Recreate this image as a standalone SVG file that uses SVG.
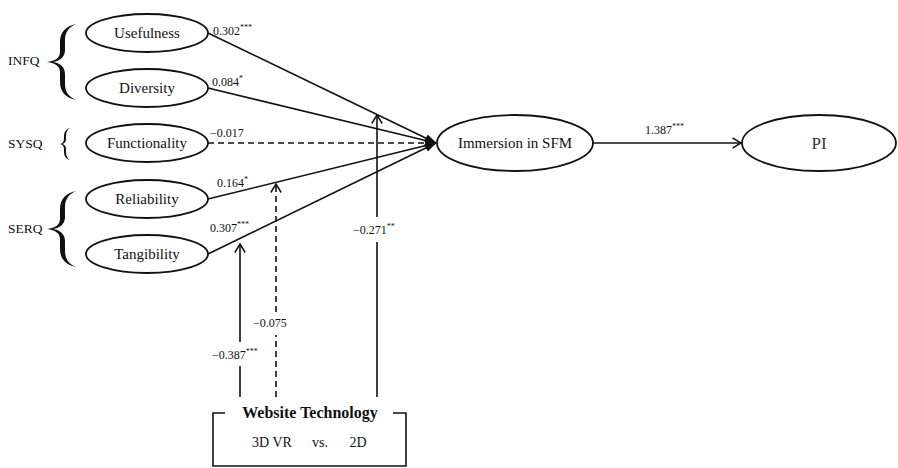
<svg xmlns="http://www.w3.org/2000/svg" width="898" height="468" viewBox="0 0 898 468">
<style>
text{font-family:"Liberation Serif","Times New Roman",serif;fill:#111}
.node ellipse{fill:#fff;stroke:#111;stroke-width:1.8}
.nt{font-size:15px;text-anchor:middle}
.lbl{font-size:12px}
.sup{font-size:8px}
.grp{font-size:13.5px}
.ln{stroke:#111;stroke-width:1.6;fill:none}
.dash{stroke-dasharray:6 4}
.brace{fill:#111;stroke:none}
</style>
<defs>
<marker id="fill" viewBox="0 0 12 10" refX="11" refY="5" markerWidth="12" markerHeight="10" markerUnits="userSpaceOnUse" orient="auto">
<path d="M0,1 L12,5 L0,9 Z" fill="#111"/>
</marker>
<marker id="open" viewBox="0 0 10 12" refX="9" refY="6" markerWidth="10" markerHeight="12" markerUnits="userSpaceOnUse" orient="auto">
<path d="M0.5,0.8 L9,6 L0.5,11.2" fill="none" stroke="#111" stroke-width="1.5"/>
</marker>
</defs>

<g id="groups">
<text class="grp" x="8" y="65">INFQ</text>
<text class="grp" x="8" y="148">SYSQ</text>
<text class="grp" x="8" y="233">SERQ</text>
<path class="brace" d="M76,24 C66,26 60,32 60,42 L60,52 C60,58 55,61 47,62 C55,63 60,66 60,72 L60,82 C60,92 66,98 76,100 C69,97 65,92 65,84 L65,74 C65,67 60,63 53,62 C60,61 65,57 65,50 L65,40 C65,32 69,27 76,24 Z"/>
<path class="brace" d="M70,128 C66,129 64,132 64,136 L64,139 C64,142 62,143.5 60,144 C62,144.5 64,146 64,149 L64,152 C64,156 66,159 70,160 C67.5,158.5 66,156 66,152 L66,149 C66,146 64.5,144.5 62,144 C64.5,143.5 66,142 66,139 L66,136 C66,132 67.5,129.5 70,128 Z"/>
<path class="brace" transform="translate(0,167)" d="M76,24 C66,26 60,32 60,42 L60,52 C60,58 55,61 47,62 C55,63 60,66 60,72 L60,82 C60,92 66,98 76,100 C69,97 65,92 65,84 L65,74 C65,67 60,63 53,62 C60,61 65,57 65,50 L65,40 C65,32 69,27 76,24 Z"/>
</g>

<g id="connectors">
<line class="ln" x1="208" y1="33" x2="436" y2="143" marker-end="url(#fill)"/>
<line class="ln" x1="208" y1="88" x2="436" y2="143" marker-end="url(#fill)"/>
<line class="ln dash" x1="208" y1="143" x2="436" y2="143" marker-end="url(#fill)"/>
<line class="ln" x1="208" y1="199" x2="436" y2="143" marker-end="url(#fill)"/>
<line class="ln" x1="208" y1="254" x2="436" y2="143" marker-end="url(#fill)"/>
<line class="ln" x1="593" y1="143" x2="741" y2="143" marker-end="url(#open)"/>
<line class="ln" x1="240" y1="397" x2="240" y2="366"/>
<line class="ln" x1="240" y1="342" x2="240" y2="244" marker-end="url(#open)"/>
<line class="ln dash" x1="276" y1="397" x2="276" y2="335"/>
<line class="ln dash" x1="276" y1="312" x2="276" y2="184" marker-end="url(#open)"/>
<line class="ln" x1="377" y1="397" x2="377" y2="242"/>
<line class="ln" x1="377" y1="217" x2="377" y2="115" marker-end="url(#open)"/>
<text class="lbl" x="213" y="35">0.302<tspan class="sup" dy="-5">***</tspan></text>
<text class="lbl" x="212" y="86">0.084<tspan class="sup" dy="-5">*</tspan></text>
<text class="lbl" x="210" y="137">−0.017</text>
<text class="lbl" x="217" y="187">0.164<tspan class="sup" dy="-5">*</tspan></text>
<text class="lbl" x="210" y="232">0.307<tspan class="sup" dy="-5">***</tspan></text>
<text class="lbl" x="353" y="234">−0.271<tspan class="sup" dy="-5">**</tspan></text>
<text class="lbl" x="212" y="359">−0.387<tspan class="sup" dy="-5">***</tspan></text>
<text class="lbl" x="253" y="327">−0.075</text>
<text class="lbl" x="645" y="134">1.387<tspan class="sup" dy="-5">***</tspan></text>
</g>

<g id="usefulness" class="node"><ellipse cx="147" cy="33" rx="61" ry="19"/><text class="nt" x="147" y="38">Usefulness</text></g>
<g id="diversity" class="node"><ellipse cx="147" cy="88" rx="61" ry="19"/><text class="nt" x="147" y="93">Diversity</text></g>
<g id="functionality" class="node"><ellipse cx="147" cy="143" rx="61" ry="19"/><text class="nt" x="147" y="148">Functionality</text></g>
<g id="reliability" class="node"><ellipse cx="147" cy="199" rx="61" ry="19"/><text class="nt" x="147" y="204">Reliability</text></g>
<g id="tangibility" class="node"><ellipse cx="147" cy="254" rx="61" ry="19"/><text class="nt" x="147" y="259">Tangibility</text></g>
<g id="immersion" class="node"><ellipse cx="515" cy="143" rx="78" ry="28"/><text class="nt" x="515" y="148">Immersion in SFM</text></g>
<g id="pi" class="node"><ellipse cx="819" cy="143" rx="77" ry="28"/><text class="nt" x="819" y="149" style="font-size:17px;fill:#333">PI</text></g>

<g id="website-technology">
<path class="ln" d="M225,413 L213,413 L213,466 L406,466 L406,413 L393,413" stroke-width="2"/>
<text x="310" y="418" style="font-size:16px;font-weight:bold;text-anchor:middle">Website Technology</text>
<text x="272" y="447" style="font-size:14px;text-anchor:middle">3D VR</text>
<text x="320" y="447" style="font-size:14px;text-anchor:middle">vs.</text>
<text x="358" y="447" style="font-size:14px;text-anchor:middle">2D</text>
</g>
</svg>
